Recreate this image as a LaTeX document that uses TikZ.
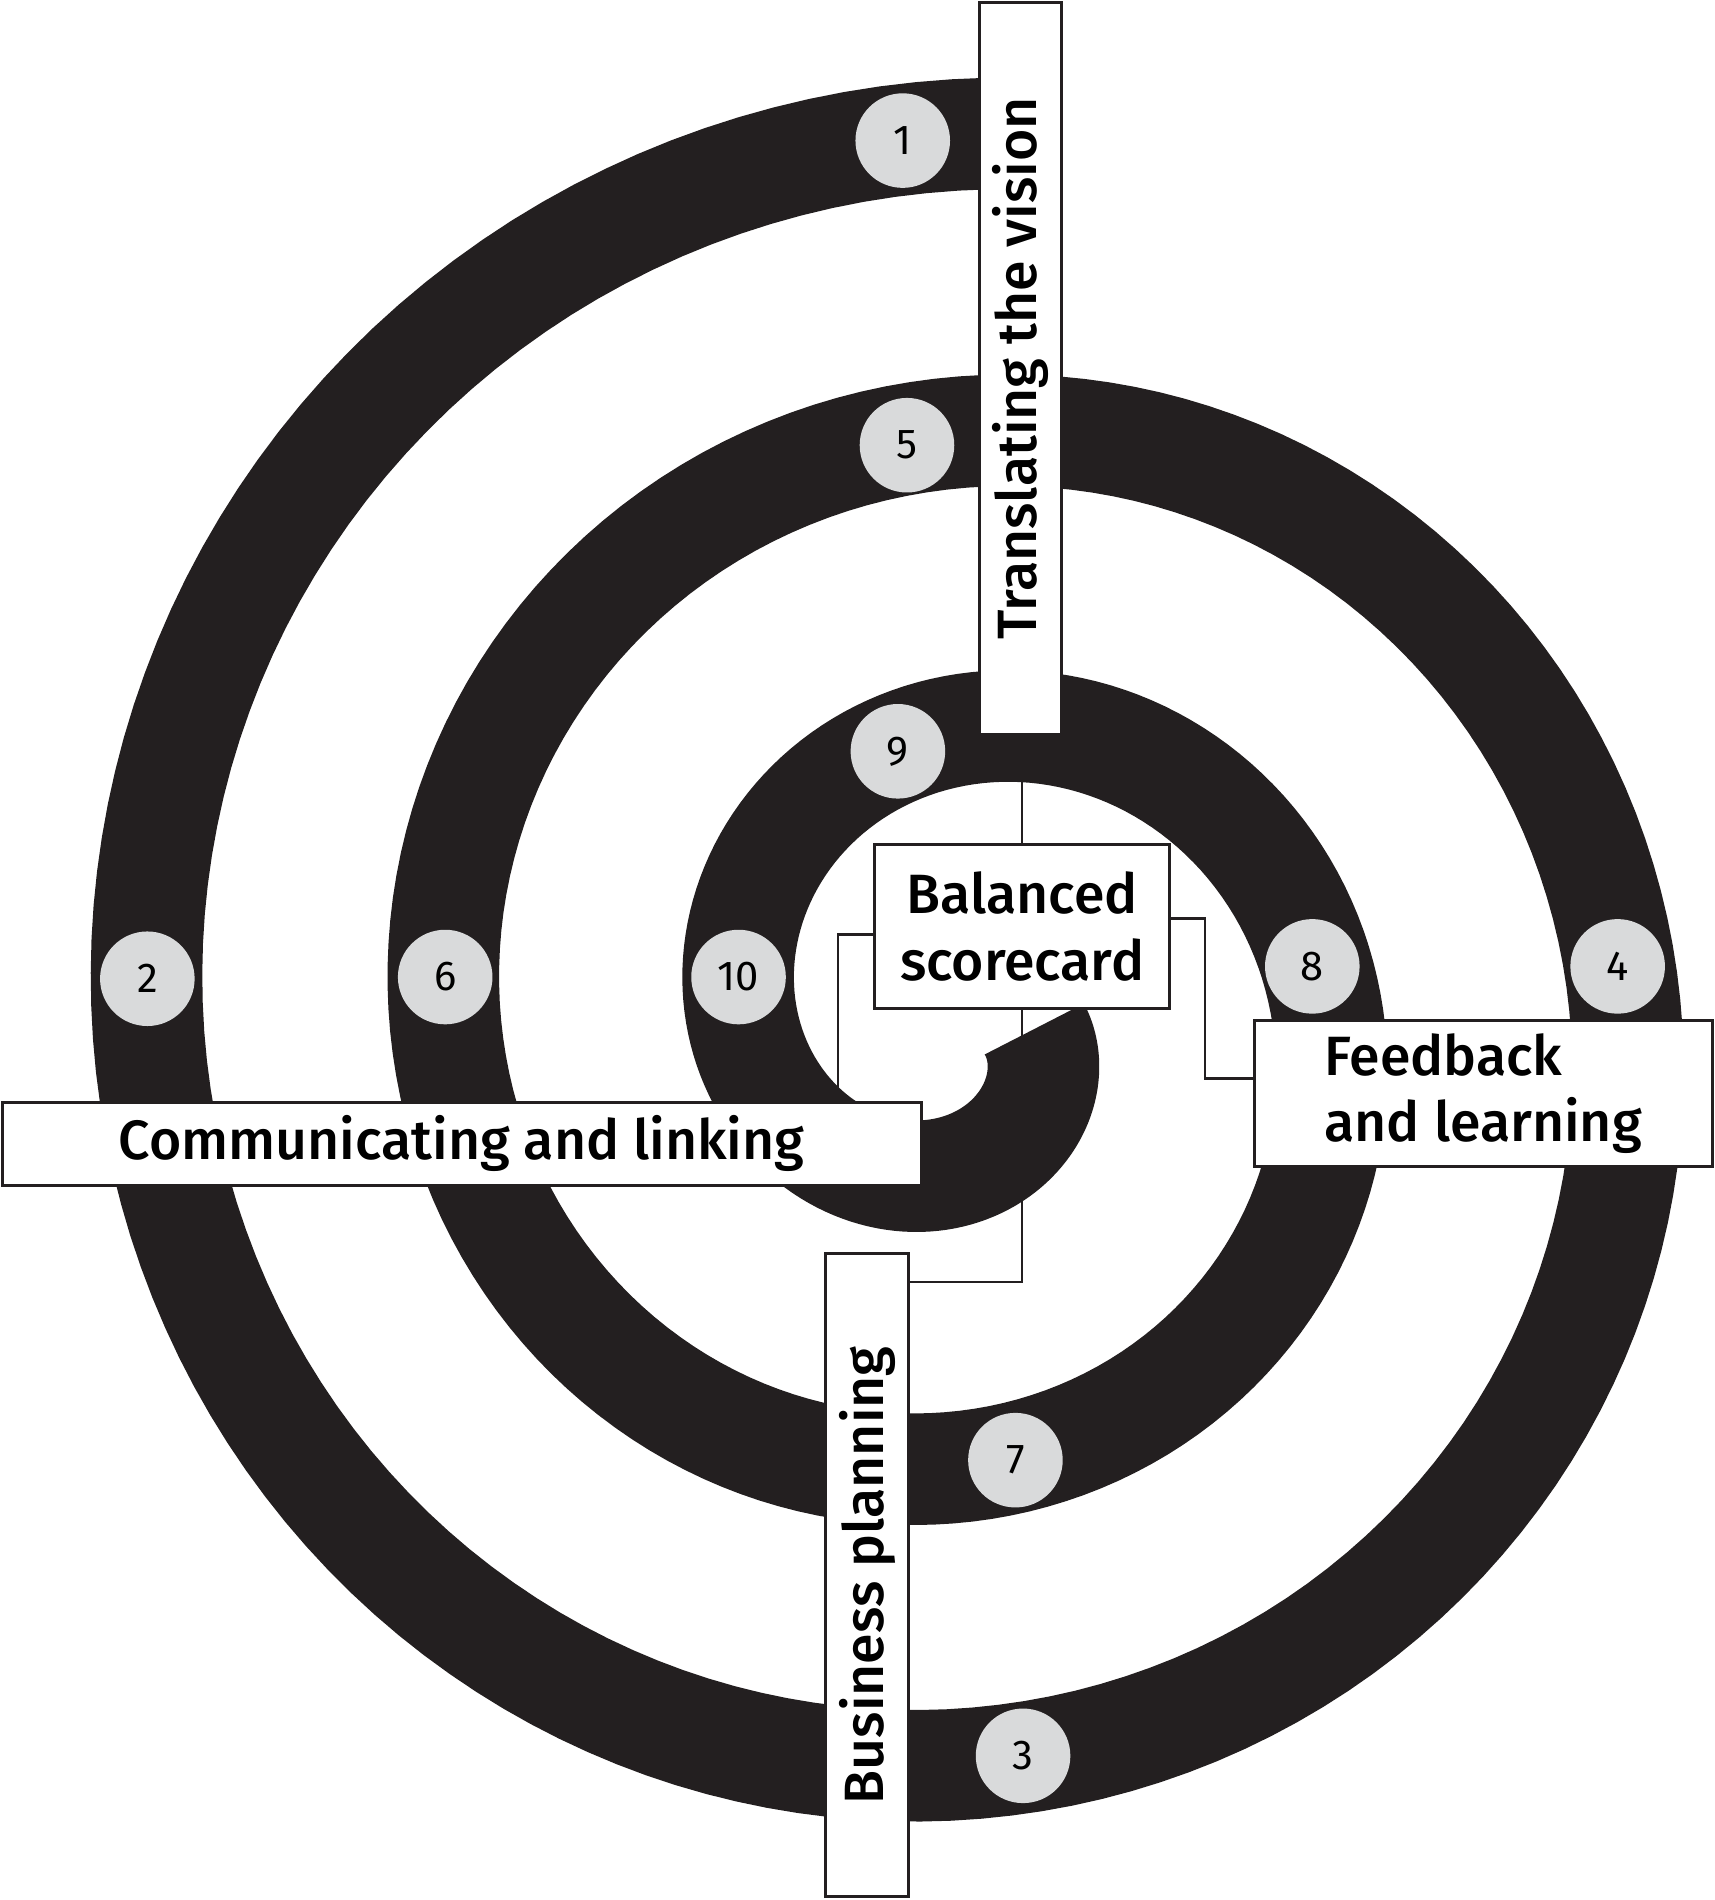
\documentclass[tikz,border=0pt]{standalone}
\usepackage{fontspec}
\setmainfont{Fira Sans}
\newfontfamily\labelfont{Fira Sans Medium}
\usetikzlibrary{positioning, backgrounds}
\definecolor{band}{HTML}{231F20}
\definecolor{dotgray}{HTML}{D9DADB}

\begin{document}
\begin{tikzpicture}[x=0.01cm, y=-0.01cm, font=\labelfont\fontsize{13}{15.6}\selectfont,
    label box/.style = {draw=band, fill=white, line width=0.7pt, inner sep=0pt},
    stage/.style = {circle, fill=dotgray, minimum size=0.78cm, inner sep=0pt,
      font=\rmfamily\fontsize{9.8}{12}\selectfont},
    link/.style = {draw=band, line width=0.6pt}]
  \useasboundingbox (0,0) rectangle (1415,1568);

  \node[label box, rotate=90, minimum width=6.04cm, minimum height=0.68cm] at (842,304) (vision) {Translating the vision};
  \node[label box, align=center, minimum width=2.43cm, minimum height=1.35cm] at (843.5,764.5) (scorecard) {Balanced\\scorecard};
  \node[label box, align=left, minimum width=3.78cm, minimum height=1.21cm] at (1224,902.5) (feedback) {Feedback\\and learning};
  \node[label box, minimum width=7.58cm, minimum height=0.68cm] at (381,944) (linking) {Communicating and linking};
  \node[label box, rotate=90, minimum width=5.3cm, minimum height=0.69cm] at (715.5,1300) (planning) {Business planning};

  \node[stage] at (745,116) (s1) {1};
  \node[stage] at (121.6,807.7) (s2) {2};
  \node[stage] at (844.3,1449) (s3) {3};
  \node[stage] at (1335,797.5) (s4) {4};
  \node[stage] at (748.5,367.4) (s5) {5};
  \node[stage] at (367.4,806.3) (s6) {6};
  \node[stage] at (838,1205) (s7) {7};
  \node[stage] at (1083,797.5) (s8) {8};
  \node[stage] at (741,620) (s9) {9};
  \node[stage] at (609.5,806.3) (s10) {10};

  \begin{scope}[on background layer]
    \draw[link] (scorecard.north) -- (scorecard.north |- vision.west);
    \draw[link] ([yshift=-0.065cm]scorecard.west) -| ([xshift=-0.7cm]linking.north east);
    \draw[link] ([yshift=0.065cm]scorecard.east) -- ++(0.28cm,0) |- ([yshift=0.125cm]feedback.west);
    \draw[link] (scorecard.south) |- ([yshift=-0.245cm]planning.south east);
    \draw[band, line width=0.92cm, line join=round]
      plot[domain=86:1076, samples=450, variable=\t]
      ({793.5+(732.9-0.6822*(\t-90))*cos(\t)}, {844.9-(733.9-0.6822*(\t-90))*sin(\t)});
  \end{scope}
\end{tikzpicture}
\end{document}
